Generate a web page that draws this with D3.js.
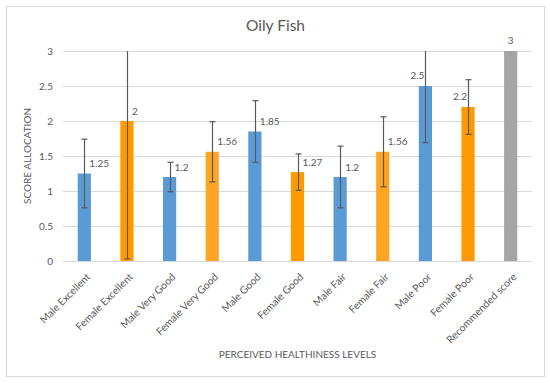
<!DOCTYPE html>
<html><head><meta charset="utf-8">
<script src="https://cdn.jsdelivr.net/npm/d3@7"></script>
<style>body{margin:0;background:#fff}svg{display:block}text{font-family:Lato,"Open Sans",sans-serif}</style>
</head><body><svg id="c" width="550" height="383"></svg>
<script>
const categories = ["Male Excellent","Female Excellent","Male Very Good","Female Very Good","Male Good","Female Good","Male Fair","Female Fair","Male Poor","Female Poor","Recommended score"];
const values = [1.25, 2, 1.2, 1.56, 1.85, 1.27, 1.2, 1.56, 2.5, 2.2, 3];
const valueLabels = ["1.25","2","1.2","1.56","1.85","1.27","1.2","1.56","2.5","2.2","3"];
const errors = [0.49, 1.97, 0.21, 0.43, 0.44, 0.26, 0.44, 0.5, 0.81, 0.39, null];
const colors = ["#5B9BD5","#FF9900","#5B9BD5","#FFA523","#5B9BD5","#FF9900","#5B9BD5","#FFA523","#5B9BD5","#FF9900","#A5A5A5"];
const labelSide = ["right","right","right","right","right","right","right","right","left","left","top"];
const yTicks = [0,0.5,1,1.5,2,2.5,3];
const yTickLabels = ["0","0.5","1","1.5","2","2.5","3"];
const title = "Oily Fish";
const xTitle = "PERCEIVED HEALTHINESS LEVELS";
const yTitle = "SCORE ALLOCATION";

const svg = d3.select("#c");
const L = 63, R = 532, T = 51, B = 261;
const x = d3.scaleBand().domain(categories).range([L, R]).paddingInner(0.69).paddingOuter(0.345);
const y = d3.scaleLinear().domain([0, 3]).range([B, T]);
const txt = "#595959";

svg.append("rect").attr("x",6.5).attr("y",6.5).attr("width",538).attr("height",370)
  .attr("fill","#fff").attr("stroke","#D9D9D9").attr("stroke-width",1);

svg.append("text").attr("x",(L+R)/2 - 22).attr("y",31).attr("text-anchor","middle")
  .attr("font-size",15.5).attr("fill",txt).text(title);

// grid
const yAxis = d3.axisLeft(y).tickValues(yTicks).tickFormat((d,i)=>yTickLabels[i]).tickSize(-(R-L)).tickPadding(10);
const ga = svg.append("g").attr("transform",`translate(${L},0)`).call(yAxis);
ga.select(".domain").remove();
ga.selectAll(".tick line").attr("stroke","#D9D9D9");
ga.selectAll(".tick text").attr("fill",txt).attr("font-size",10).attr("font-family","Lato");

// bars
const cx = c => x(c) + x.bandwidth()/2;
svg.append("g").selectAll("rect").data(categories).join("rect")
  .attr("x", c => x(c)).attr("width", x.bandwidth())
  .attr("y", (c,i) => y(values[i])).attr("height", (c,i) => B - y(values[i]))
  .attr("fill", (c,i) => colors[i]);

// baseline
svg.append("line").attr("x1",L).attr("x2",R).attr("y1",B+0.5).attr("y2",B+0.5).attr("stroke","#D9D9D9");

// error bars
const eg = svg.append("g").attr("stroke","#595959").attr("stroke-width",1.2);
categories.forEach((c,i) => {
  if (errors[i] == null) return;
  const hiV = values[i] + errors[i], loV = Math.max(0, values[i] - errors[i]);
  const hi = y(Math.min(3, hiV)), lo = y(loV);
  const xc = Math.round(cx(c)) + 0.5;
  eg.append("line").attr("x1",xc).attr("x2",xc).attr("y1",hi).attr("y2",lo);
  eg.append("line").attr("x1",xc-3).attr("x2",xc+3).attr("y1",lo).attr("y2",lo);
  if (hiV <= 3) eg.append("line").attr("x1",xc-3).attr("x2",xc+3).attr("y1",hi).attr("y2",hi);
});

// data labels
svg.append("g").selectAll("text").data(categories).join("text")
  .attr("x", (c,i) => labelSide[i]==="right" ? cx(c)+5 : labelSide[i]==="left" ? cx(c)-1 : cx(c))
  .attr("y", (c,i) => y(values[i]) - (labelSide[i]==="right" ? 6.5 : 7.5))
  .attr("text-anchor", (c,i) => labelSide[i]==="right" ? "start" : labelSide[i]==="left" ? "end" : "middle")
  .attr("font-size",10).attr("fill",txt).text((c,i)=>valueLabels[i]);

// x tick labels
svg.append("g").selectAll("text").data(categories).join("text")
  .attr("transform", c => `translate(${cx(c)+4},${B+14}) rotate(-45)`)
  .attr("text-anchor","end").attr("dy","0.35em")
  .attr("font-size",10.3).attr("fill",txt).text(c=>c);

svg.append("text").attr("x",(L+R)/2).attr("y",358).attr("text-anchor","middle")
  .attr("font-size",10).attr("fill",txt).text(xTitle);
svg.append("text").attr("transform",`translate(31,${(T+B)/2}) rotate(-90)`).attr("text-anchor","middle")
  .attr("font-size",10).attr("fill",txt).text(yTitle);
</script></body></html>
